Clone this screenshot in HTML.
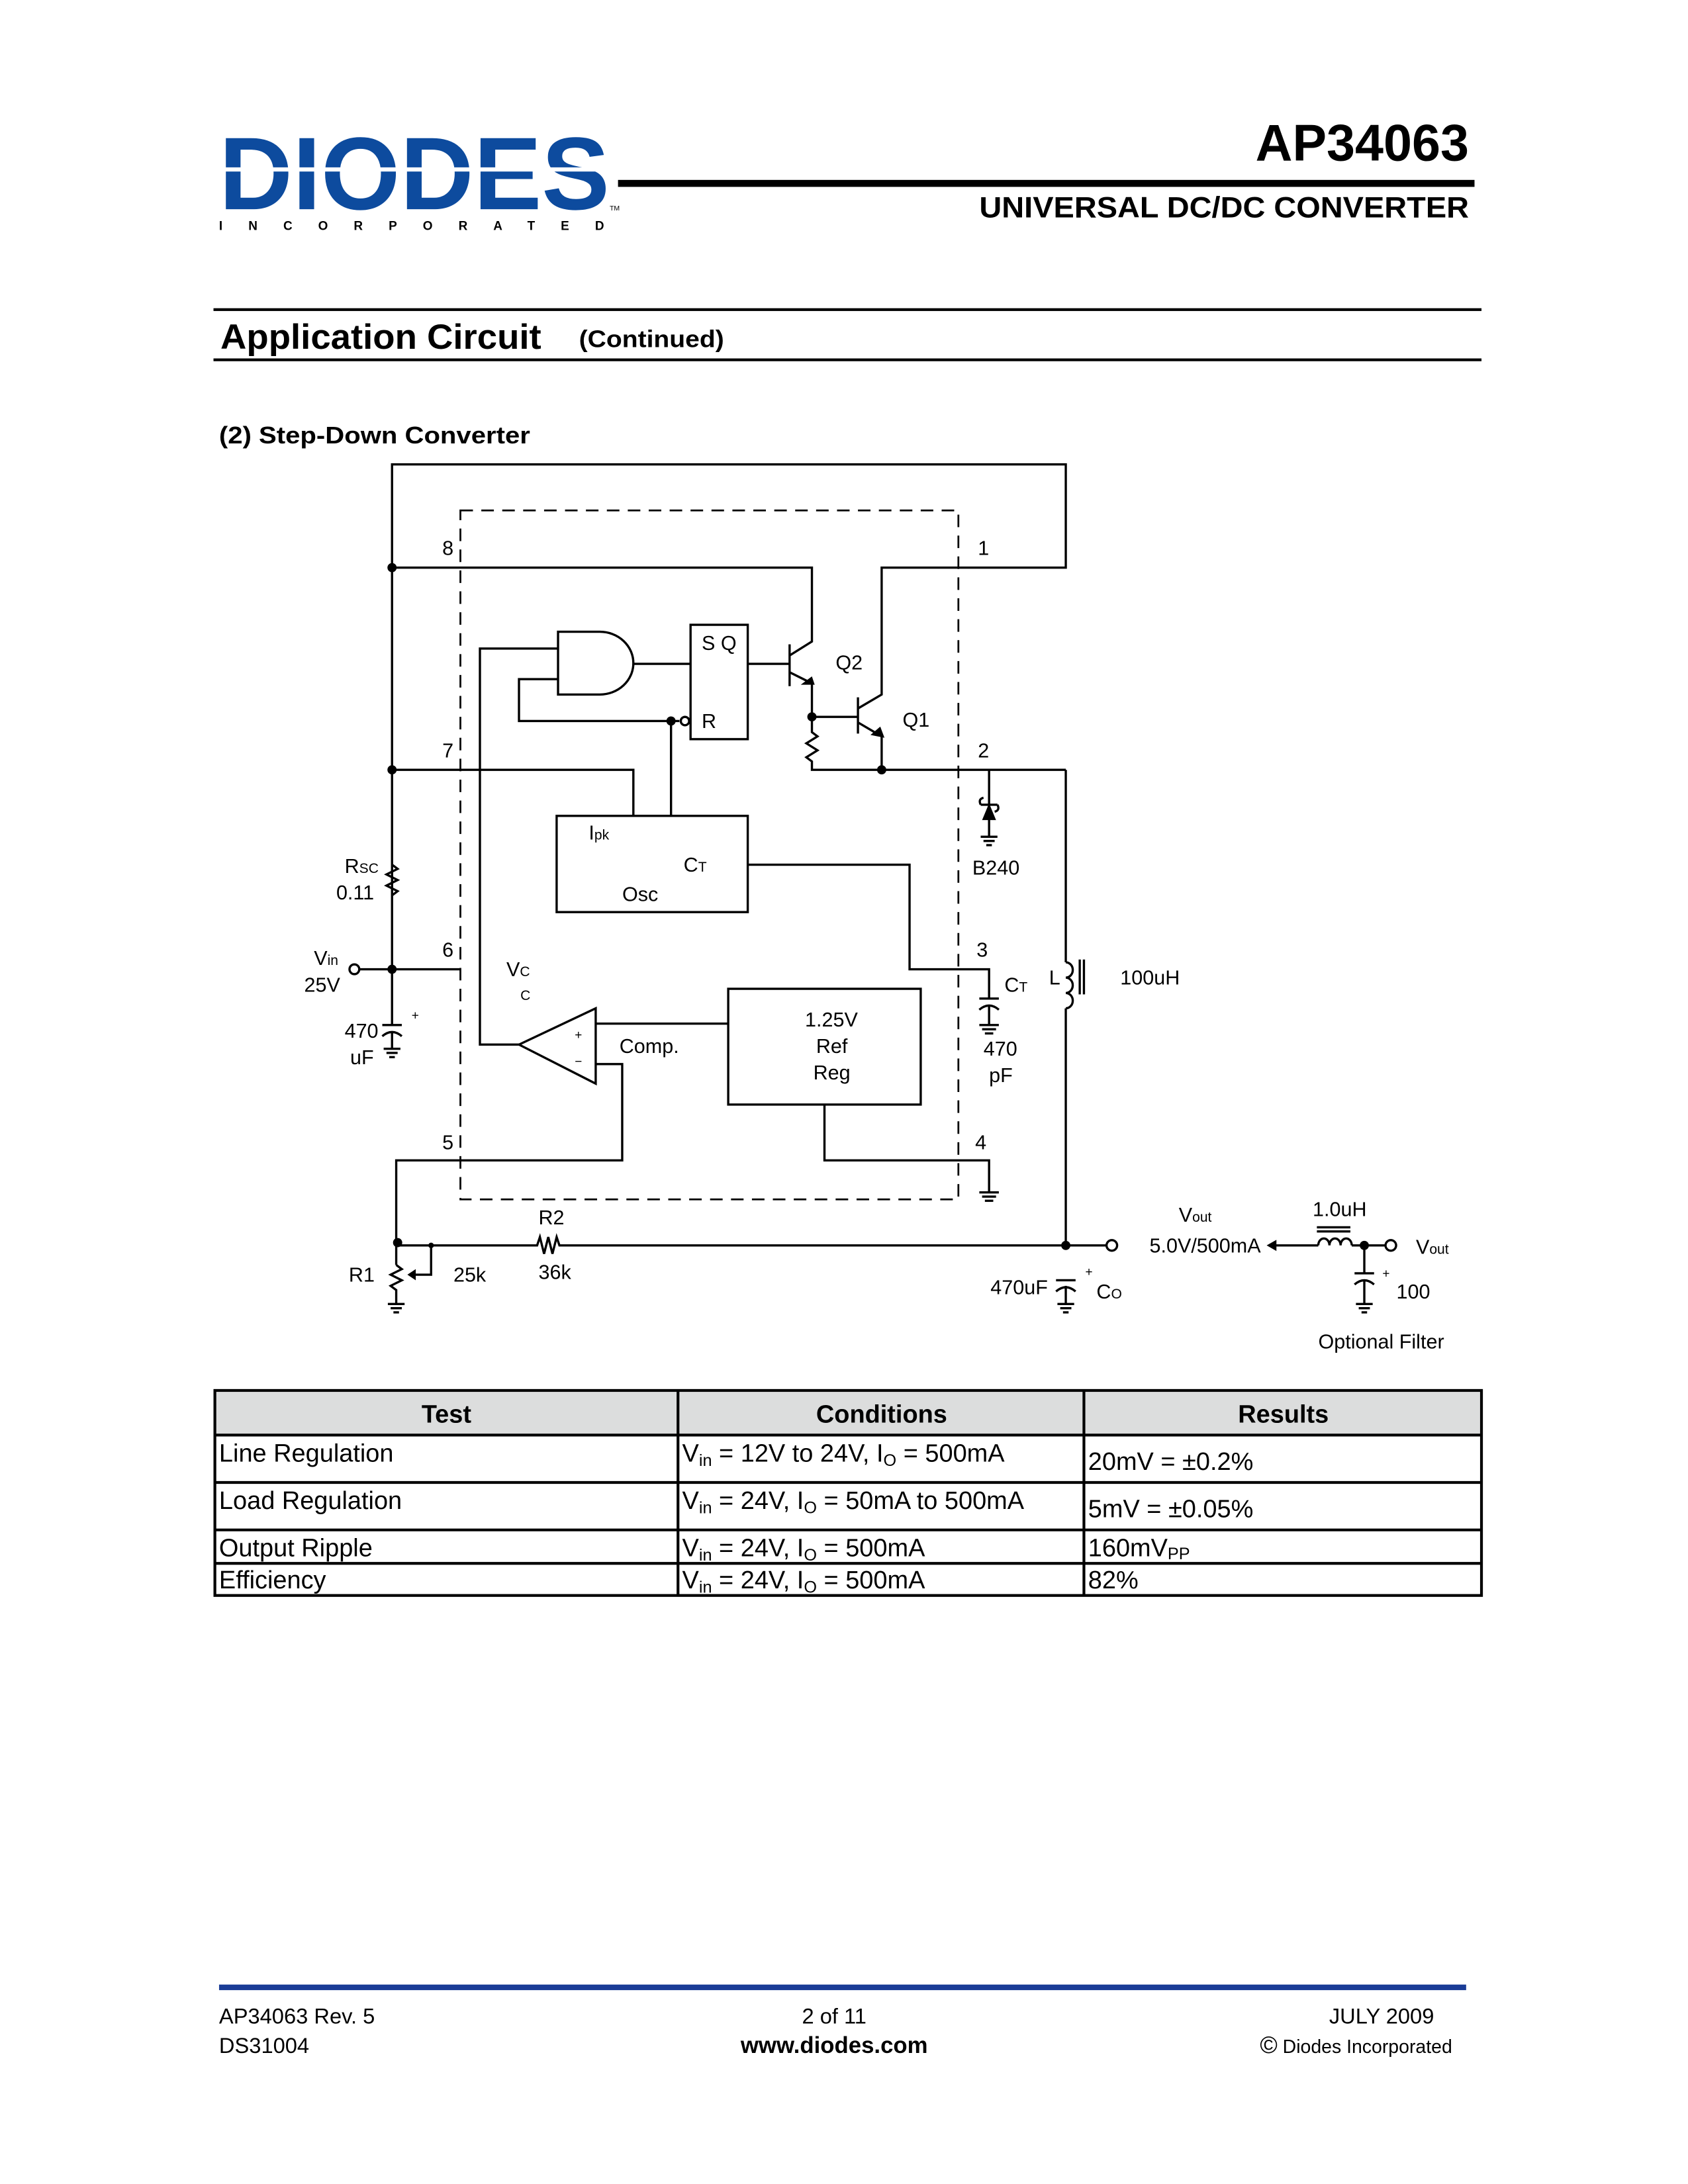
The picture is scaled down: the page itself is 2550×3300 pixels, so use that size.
<!DOCTYPE html>
<html><head><meta charset="utf-8"><style>
html,body{margin:0;padding:0;background:#fff}
svg{display:block}
text{font-family:"Liberation Sans",sans-serif;fill:#000}
</style></head><body>
<svg width="2550" height="3300" viewBox="0 0 1210 1566" xmlns="http://www.w3.org/2000/svg">
<rect width="1210" height="1566" fill="#fff"/>
<!-- Logo -->
<text x="157" y="150" font-size="74" font-weight="bold" fill="#0d4b9e" style="fill:#0d4b9e" textLength="280" lengthAdjust="spacingAndGlyphs">DIODES</text>
<rect x="157" y="120" width="282" height="3" fill="#fff"/>
<text x="157" y="165" font-size="9" font-weight="bold" textLength="276" lengthAdjust="spacing">INCORPORATED</text>
<text x="437" y="151" font-size="5">TM</text>
<text x="1053" y="115" font-size="37" font-weight="bold" text-anchor="end" textLength="153" lengthAdjust="spacingAndGlyphs">AP34063</text>
<rect x="443" y="129" width="614" height="5" fill="#000"/>
<text x="1053" y="156" font-size="21" font-weight="bold" text-anchor="end" textLength="351" lengthAdjust="spacingAndGlyphs">UNIVERSAL DC/DC CONVERTER</text>
<rect x="153" y="221" width="909" height="2" fill="#000"/>
<text x="158" y="250" font-size="25" font-weight="bold" textLength="230" lengthAdjust="spacingAndGlyphs">Application Circuit</text>
<text x="415" y="249" font-size="17" font-weight="bold" textLength="104" lengthAdjust="spacingAndGlyphs">(Continued)</text>
<rect x="153" y="257" width="909" height="2" fill="#000"/>
<text x="157" y="318" font-size="17" font-weight="bold" textLength="223" lengthAdjust="spacingAndGlyphs">(2)  Step-Down Converter</text>

<!-- Circuit -->
<g stroke="#000" stroke-width="1.6" fill="none">
<rect x="330" y="366" width="357" height="494" stroke-dasharray="9,6" stroke-width="1.3"/>
<polyline points="281,735 281,333 764,333 764,407 632,407 632,498 615,508"/>
<polyline points="281,407 582,407 582,460 566,470"/>
<polyline points="281,552 454,552 454,585"/>
<path d="M400,453 H430 A24,22.5 0 0 1 430,498 H400 Z"/>
<polyline points="400,465 344,465 344,749 372,749"/>
<polyline points="400,487 372,487 372,517 487,517"/>
<circle cx="491" cy="517" r="3" fill="#fff"/>
<line x1="481" y1="517" x2="481" y2="585"/>
<rect x="495" y="448" width="41" height="82"/>
<line x1="454" y1="476" x2="495" y2="476"/>
<line x1="536" y1="476" x2="566" y2="476"/>
<line x1="566" y1="462" x2="566" y2="492"/>
<polyline points="566,482 582,490 582,525 586,528 578,533 586,538 578,543 582,546 582,552 764,552"/>
<polyline points="582,514 615,514"/>
<line x1="615" y1="500" x2="615" y2="526"/>
<polyline points="615,518 632,528 632,552"/>
<polyline points="764,552 764,690"/>
<path d="M764,690 a5,5.5 0 0 1 0,11 a5,5.5 0 0 1 0,11 a5,5.5 0 0 1 0,11"/>
<line x1="774" y1="688" x2="774" y2="713"/>
<line x1="777" y1="688" x2="777" y2="713"/>
<polyline points="764,723 764,893"/>
<line x1="709" y1="552" x2="709" y2="600"/>
<path d="M703,577 h12 M703,577 q-2,-4 2,-5 M715,577 q2,4 -2,5"/>
<line x1="703" y1="600" x2="715" y2="600"/><line x1="705" y1="603" x2="713" y2="603"/><line x1="707" y1="606" x2="711" y2="606"/>
<rect x="399" y="585" width="137" height="69"/>
<polyline points="536,620 652,620 652,695 709,695 709,716"/>
<line x1="702" y1="716" x2="716" y2="716"/>
<path d="M702,724 q7,-6 14,0"/>
<line x1="709" y1="721" x2="709" y2="735"/>
<line x1="702" y1="735" x2="716" y2="735"/><line x1="704" y1="738" x2="714" y2="738"/><line x1="706" y1="741" x2="712" y2="741"/>
<line x1="258" y1="695" x2="330" y2="695"/>
<circle cx="254" cy="695" r="3.5" fill="#fff"/>
<polyline points="281,620 285,623 277,627 285,631 277,635 285,639 281,642"/>
<line x1="274" y1="735" x2="288" y2="735"/>
<path d="M274,743 q7,-6 14,0"/>
<line x1="281" y1="740" x2="281" y2="752"/>
<line x1="275" y1="752" x2="287" y2="752"/><line x1="277" y1="755" x2="285" y2="755"/><line x1="279" y1="758" x2="283" y2="758"/>
<polygon points="372,749 427,723 427,777"/>
<line x1="427" y1="734" x2="522" y2="734"/>
<polyline points="427,763 446,763 446,832 284,832 284,907"/>
<rect x="522" y="709" width="138" height="83"/>
<polyline points="591,792 591,832 709,832 709,855"/>
<line x1="702" y1="855" x2="716" y2="855"/><line x1="704" y1="858" x2="714" y2="858"/><line x1="706" y1="861" x2="712" y2="861"/>
<polyline points="285,893 385,893 387,887 390,899 393,887 396,899 399,887 401,893 793,893"/>
<circle cx="797" cy="893" r="3.8" fill="#fff"/>
<polyline points="284,907 288,910 280,914 288,918 280,922 284,925 284,935"/>
<line x1="278" y1="935" x2="290" y2="935"/><line x1="280" y1="938" x2="288" y2="938"/><line x1="282" y1="941" x2="286" y2="941"/>
<polyline points="309,893 309,914 296,914"/>
<line x1="757" y1="918" x2="771" y2="918"/>
<path d="M757,926 q7,-6 14,0"/>
<line x1="764" y1="922" x2="764" y2="935"/>
<line x1="758" y1="935" x2="770" y2="935"/><line x1="760" y1="938" x2="768" y2="938"/><line x1="762" y1="941" x2="766" y2="941"/>
<line x1="912" y1="893" x2="945" y2="893"/>
<path d="M945,893 a4,5 0 0 1 8,0 a4,5 0 0 1 8,0 a4,5 0 0 1 8,0"/>
<line x1="944" y1="880" x2="968" y2="880"/><line x1="944" y1="883" x2="968" y2="883"/>
<line x1="969" y1="893" x2="993" y2="893"/>
<circle cx="997" cy="893" r="3.8" fill="#fff"/>
<line x1="978" y1="893" x2="978" y2="913"/>
<line x1="971" y1="913" x2="985" y2="913"/>
<path d="M971,921 q7,-6 14,0"/>
<line x1="978" y1="918" x2="978" y2="935"/>
<line x1="972" y1="935" x2="984" y2="935"/><line x1="974" y1="938" x2="982" y2="938"/><line x1="976" y1="941" x2="980" y2="941"/>
</g>
<g fill="#000">
<circle cx="281" cy="407" r="3.3"/><circle cx="281" cy="552" r="3.3"/><circle cx="281" cy="695" r="3.3"/>
<circle cx="481" cy="517" r="3.3"/><circle cx="582" cy="514" r="3.3"/><circle cx="632" cy="552" r="3.3"/>
<circle cx="285" cy="891" r="3.3"/><circle cx="309" cy="893" r="2"/><circle cx="764" cy="893" r="3.3"/><circle cx="978" cy="893" r="3.3"/>
<polygon points="584,491 574,491 582,485"/>
<polygon points="634,529 624,527 631,521"/>
<polygon points="709,576 704,588 714,588"/>
<polygon points="292,914 298,910 298,918"/>
<polygon points="908,893 915,889 915,897"/>
</g>
<g font-size="14.5">
<text x="317" y="398">8</text><text x="701" y="398">1</text>
<text x="317" y="543">7</text><text x="701" y="543">2</text>
<text x="317" y="686">6</text><text x="700" y="686">3</text>
<text x="317" y="824">5</text><text x="699" y="824">4</text>
<text x="503" y="466">S  Q</text><text x="503" y="522">R</text>
<text x="599" y="480">Q2</text><text x="647" y="521">Q1</text>
<text x="422" y="602">I<tspan font-size="10">pk</tspan></text>
<text x="490" y="625">C<tspan font-size="10">T</tspan></text>
<text x="446" y="646">Osc</text>
<text x="697" y="627">B240</text>
<text x="247" y="626">R<tspan font-size="10">SC</tspan></text>
<text x="241" y="645">0.11</text>
<text x="225" y="692">V<tspan font-size="10">in</tspan></text>
<text x="218" y="711">25V</text>
<text x="247" y="744">470</text><text x="251" y="763">uF</text>
<text x="295" y="731" font-size="9">+</text>
<text x="363" y="700">V<tspan font-size="10">C</tspan></text>
<text x="373" y="717" font-size="10">C</text>
<text x="412" y="745" font-size="9">+</text><text x="412" y="764" font-size="9">−</text>
<text x="444" y="755">Comp.</text>
<text x="577" y="736">1.25V</text><text x="585" y="755">Ref</text><text x="583" y="774">Reg</text>
<text x="720" y="711">C<tspan font-size="10">T</tspan></text>
<text x="705" y="757">470</text><text x="709" y="776">pF</text>
<text x="752" y="706">L</text><text x="803" y="706">100uH</text>
<text x="386" y="878">R2</text><text x="386" y="917">36k</text>
<text x="250" y="919">R1</text><text x="325" y="919">25k</text>
<text x="710" y="928">470uF</text>
<text x="786" y="931">C<tspan font-size="10">O</tspan></text>
<text x="778" y="915" font-size="9">+</text>
<text x="845" y="876">V<tspan font-size="10">out</tspan></text>
<text x="824" y="898">5.0V/500mA</text>
<text x="941" y="872">1.0uH</text>
<text x="1015" y="899">V<tspan font-size="10">out</tspan></text>
<text x="991" y="916" font-size="9">+</text>
<text x="1001" y="931">100</text>
<text x="945" y="967">Optional Filter</text>
</g>

<rect x="154" y="997" width="908" height="32" fill="#dcdddd"/>
<g stroke="#000" stroke-width="2" fill="none">
<rect x="154" y="997" width="908" height="147"/>
<line x1="154" y1="1029" x2="1062" y2="1029"/>
<line x1="154" y1="1063" x2="1062" y2="1063"/>
<line x1="154" y1="1097" x2="1062" y2="1097"/>
<line x1="154" y1="1121" x2="1062" y2="1121"/>
<line x1="486" y1="997" x2="486" y2="1144"/>
<line x1="777" y1="997" x2="777" y2="1144"/>
</g>
<g font-size="18">
<text x="320" y="1020" font-weight="bold" text-anchor="middle">Test</text>
<text x="632" y="1020" font-weight="bold" text-anchor="middle">Conditions</text>
<text x="920" y="1020" font-weight="bold" text-anchor="middle">Results</text>
<text x="157" y="1048">Line Regulation</text>
<text x="489" y="1048">V<tspan font-size="12" dy="3">in</tspan><tspan dy="-3"> = 12V to 24V, I</tspan><tspan font-size="12" dy="3">O</tspan><tspan dy="-3"> = 500mA</tspan></text>
<text x="780" y="1054">20mV =  ±0.2%</text>
<text x="157" y="1082">Load Regulation</text>
<text x="489" y="1082">V<tspan font-size="12" dy="3">in</tspan><tspan dy="-3"> = 24V, I</tspan><tspan font-size="12" dy="3">O</tspan><tspan dy="-3"> = 50mA to 500mA</tspan></text>
<text x="780" y="1088">5mV =  ±0.05%</text>
<text x="157" y="1116">Output Ripple</text>
<text x="489" y="1116">V<tspan font-size="12" dy="3">in</tspan><tspan dy="-3"> = 24V, I</tspan><tspan font-size="12" dy="3">O</tspan><tspan dy="-3"> = 500mA</tspan></text>
<text x="780" y="1116">160mV<tspan font-size="12" dy="2">PP</tspan></text>
<text x="157" y="1139">Efficiency</text>
<text x="489" y="1139">V<tspan font-size="12" dy="3">in</tspan><tspan dy="-3"> = 24V, I</tspan><tspan font-size="12" dy="3">O</tspan><tspan dy="-3"> = 500mA</tspan></text>
<text x="780" y="1139">82%</text>
</g>

<rect x="157" y="1423" width="894" height="4" fill="#1a3c96"/>
<g font-size="15.5">
<text x="157" y="1451">AP34063 Rev. 5</text>
<text x="157" y="1472">DS31004</text>
<text x="598" y="1451" text-anchor="middle">2 of 11</text>
<text x="598" y="1472" text-anchor="middle" font-weight="bold" font-size="16.5">www.diodes.com</text>
<text x="1028" y="1451" text-anchor="end">JULY 2009</text>
<text x="1041" y="1472" text-anchor="end" font-size="13.5"><tspan font-size="17">©</tspan> Diodes Incorporated</text>
</g>
</svg>
</body></html>
